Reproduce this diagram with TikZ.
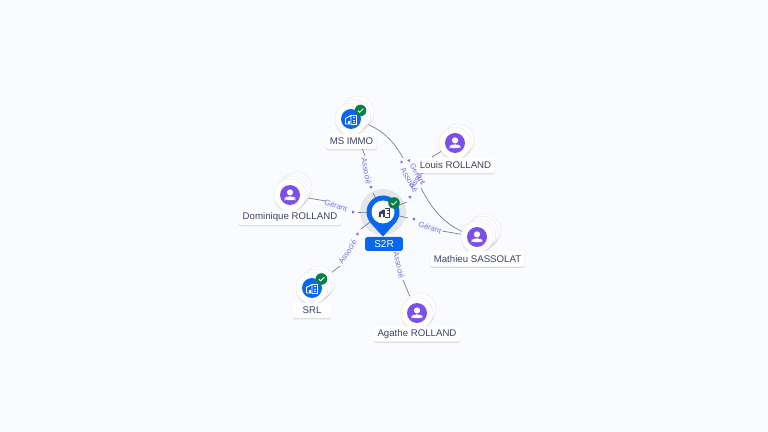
\documentclass[tikz,border=0pt]{standalone}
\usepackage{fontspec}
\setmainfont{Liberation Sans}
\usetikzlibrary{shadows}
\usetikzlibrary{shapes.geometric}

\definecolor{pagebg}{HTML}{FAFBFE}
\definecolor{haloc}{HTML}{E4E6E9}
\definecolor{linkc}{HTML}{6E7183}
\definecolor{labelc}{HTML}{7A70E4}
\definecolor{namec}{HTML}{3C4066}
\definecolor{bluec}{HTML}{0B66EE}
\definecolor{purplec}{HTML}{7B4FEA}
\definecolor{greenc}{HTML}{0B7D48}

\tikzset{
  softshadow/.style={drop shadow={shadow xshift=0cm,shadow yshift=-0.025cm,opacity=0.12,fill=black}},
  disc/.style={circle,fill=white,draw=black!8,line width=0.3pt,minimum size=0.64cm,inner sep=0pt,softshadow},
  namebox/.style={fill=white,rounded corners=1pt,softshadow,text=namec,inner xsep=0.07cm,inner ysep=0pt,
    minimum height=0.31cm,font=\fontsize{5.5}{6}\selectfont},
  link/.style={draw=linkc,line width=0.35pt},
  linklabel/.style={text=labelc,inner sep=0pt,font=\fontsize{4.4}{5}\selectfont},
  tipmark/.style={regular polygon,regular polygon sides=3,fill=labelc,inner sep=0pt,minimum size=0.075cm},
  person/.pic={
    \fill[purplec] (0,0) circle (10);
    \fill[white] (0,-2.6) circle (3.1);
    \fill[white,rounded corners=1.5pt] (-5.3,5.2) -- (-5.3,3.3) -- (-3,1.4) -- (3,1.4) -- (5.3,3.3) -- (5.3,5.2) -- cycle;
  },
  building/.pic={
    \fill[bluec] (0,0) circle (10);
    \draw[white,line width=0.5pt,line join=round] (-5.5,5) -- (-5.5,-0.5) -- (0,-3.5) -- (0,5) -- cycle;
    \draw[white,line width=0.5pt] (0,-4) -- (5.5,-4) -- (5.5,5) -- (0,5);
    \draw[white,line width=0.5pt] (-2.8,5) -- (-2.8,2) -- (-1.2,2) -- (-1.2,5);
    \foreach \ky in {-1.5,1,3.5} \draw[white,line width=0.4pt] (2,\ky) -- (4,\ky);
  },
  check/.pic={
    \fill[greenc] (0,0) circle (5.8);
    \draw[white,line width=0.5pt] (-2.6,0.1) -- (-0.8,1.9) -- (2.8,-1.8);
  }
}

\begin{document}
\begin{tikzpicture}[x=0.02cm,y=-0.02cm]

% Background
\fill[pagebg] (0,0) rectangle (768,432);
\useasboundingbox (0,0) rectangle (768,432);

% Positions
\coordinate (s2r) at (383,212);
\coordinate (msimmo) at (351,119);
\coordinate (louis) at (455,143);
\coordinate (dominique) at (290,195);
\coordinate (mathieu) at (477,237);
\coordinate (srl) at (312,288);
\coordinate (agathe) at (417,313);

% Halo
\fill[haloc] (s2r) circle (23);

% Link labels
\node[linklabel,rotate=-80] (labmsimmo) at (366.5,171) {Associé};
\node[linklabel,rotate=-20] (labdominique) at (336,205.5) {Gérant};
\node[linklabel,rotate=58] (labsrl) at (347.5,252) {Associé};
\node[linklabel,rotate=-78] (labagathe) at (399,265) {Associé};
\node[linklabel,rotate=-20] (labmathieu) at (430,227.5) {Gérant};
\node[linklabel,rotate=57] (lablouis) at (418,177) {Associé};
\node[linklabel,rotate=-60] (labcurve) at (409.5,180) {Associé};
\node[linklabel,rotate=-60] (labcurvetwo) at (418,174) {Gérant};

% Tips
\node[tipmark,rotate=180] (tipmsimmo) at (371,187) {};
\node[tipmark,rotate=-80] (tipdominique) at (353,212) {};
\node[tipmark,rotate=-145] (tipsrl) at (357.5,234) {};
\node[tipmark,rotate=-50] (tiplouis) at (410,197) {};
\node[tipmark,rotate=75] (tipmathieu) at (414,219) {};
\node[tipmark,rotate=30] (tipcurve) at (401.5,162) {};
\node[tipmark,rotate=-30] (tipcurvetwo) at (409,160.5) {};

% Links, outer part
\coordinate (endmsimmo) at (365,156);
\coordinate (enddominique) at (326,201);
\coordinate (endsrl) at (340,266);
\coordinate (endagathe) at (403,280);
\coordinate (endmathieu) at (442,231);
\coordinate (endlouis) at (432,157);
\coordinate (endcurve) at (403,158);
\coordinate (endcurvetwo) at (421,188);
\draw[link] (msimmo) -- (endmsimmo);
\draw[link] (dominique) -- (enddominique);
\draw[link] (srl) -- (endsrl);
\draw[link] (agathe) -- (endagathe);
\draw[link] (mathieu) -- (endmathieu);
\draw[link] (louis) -- (endlouis);
\draw[link] (msimmo) .. controls (382,126) and (394,142) .. (endcurve);
\draw[link] (endcurvetwo) .. controls (433,212) and (448,229) .. (mathieu);

% Links, inner part
\coordinate (startmsimmo) at (373,193);
\coordinate (startdominique) at (358,212.5);
\coordinate (startsrl) at (361,229);
\coordinate (startlouis) at (407,202);
\coordinate (startmathieu) at (408,218);
\draw[link] (startmsimmo) -- (s2r);
\draw[link] (startdominique) -- (s2r);
\draw[link] (startsrl) -- (s2r);
\draw[link] (startlouis) -- (s2r);
\draw[link] (startmathieu) -- (s2r);

% MS IMMO
\foreach \dx/\dy in {7/-7,3.5/-3.5} \node[disc] at ([shift={(\dx,\dy)}]msimmo) {};
\node[disc] (discmsimmo) at (msimmo) {};
\pic at (msimmo) {building};
\pic at (360.5,110.5) {check};
\node[namebox] (namemsimmo) at (351.5,141.5) {MS IMMO};

% Louis
\node[disc] at ([shift={(3,-3)}]louis) {};
\node[disc] (disclouis) at (louis) {};
\pic at (louis) {person};
\node[namebox] (namelouis) at (455.5,165.5) {Louis ROLLAND};

% Dominique
\foreach \dx/\dy in {6/-7,4/-4.6,2/-2.3} \node[disc] at ([shift={(\dx,\dy)}]dominique) {};
\node[disc] (discdominique) at (dominique) {};
\pic at (dominique) {person};
\node[namebox] (namedominique) at (290,217.5) {Dominique ROLLAND};

% Mathieu
\foreach \dx/\dy in {8/-7,5.3/-4.7,2.7/-2.3} \node[disc] at ([shift={(\dx,\dy)}]mathieu) {};
\node[disc] (discmathieu) at (mathieu) {};
\pic at (mathieu) {person};
\node[namebox] (namemathieu) at (477.5,259) {Mathieu SASSOLAT};

% SRL
\foreach \dx/\dy in {7/-6,3.5/-3} \node[disc] at ([shift={(\dx,\dy)}]srl) {};
\node[disc] (discsrl) at (srl) {};
\pic at (srl) {building};
\pic at (321.5,279) {check};
\node[namebox,minimum width=0.76cm] (namesrl) at (312,310.5) {SRL};

% Agathe
\node[disc] at ([shift={(3,-4)}]agathe) {};
\node[disc] (discagathe) at (agathe) {};
\pic at (agathe) {person};
\node[namebox] (nameagathe) at (417,334) {Agathe ROLLAND};

% Pin
\fill[bluec] (383,236.5) -- (369.5,222) arc (137:-317:0) -- cycle;
\fill[bluec] (s2r) circle (16.5);
\fill[bluec] (371.2,223.5) -- (383,236.5) -- (394.8,223.5) -- cycle;
\fill[white] (s2r) circle (11.5);
\begin{scope}[shift={(384,212.5)},scale=0.95]
\fill[namec] (-5.5,5) -- (-5.5,0) -- (-1,-3) -- (1,-3) -- (1,5) -- cycle;
\draw[namec,line width=0.5pt] (1,-4.5) -- (6,-4.5) -- (6,5) -- (1,5);
\fill[white] (-3,5) rectangle (-1,2);
\foreach \ky in {-2,1} \draw[namec,line width=0.4pt] (3,\ky) -- (4.8,\ky);
\end{scope}
\pic at (394,203) {check};
\node[fill=bluec,rounded corners=1.5pt,text=white,minimum width=0.76cm,minimum height=0.28cm,inner sep=0pt,
  font=\fontsize{5.7}{6}\selectfont] (names2r) at (384,244) {S2R};

\end{tikzpicture}
\end{document}
